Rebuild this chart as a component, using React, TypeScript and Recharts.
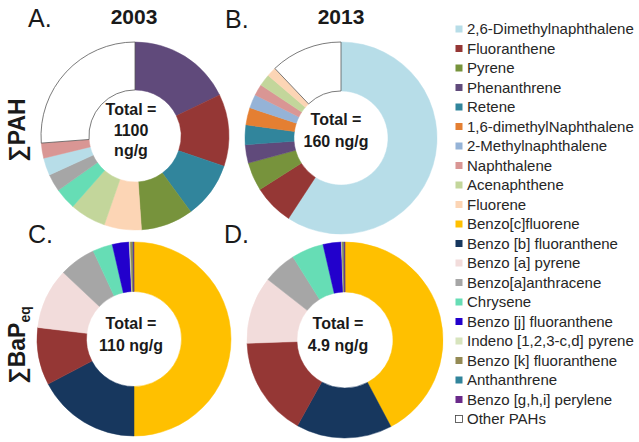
import { PieChart, Pie, Cell } from 'recharts';

// legend (also used for colours)
const legendNames = [
  '2,6-Dimethylnaphthalene',
  'Fluoranthene',
  'Pyrene',
  'Phenanthrene',
  'Retene',
  '1,6-dimethylNaphthalene',
  '2-Methylnaphthalene',
  'Naphthalene',
  'Acenaphthene',
  'Fluorene',
  'Benzo[c]fluorene',
  'Benzo [b] fluoranthene',
  'Benzo [a] pyrene',
  'Benzo[a]anthracene',
  'Chrysene',
  'Benzo [j] fluoranthene',
  'Indeno [1,2,3-c,d] pyrene',
  'Benzo [k] fluoranthene',
  'Anthanthrene',
  'Benzo [g,h,i] perylene',
  'Other PAHs',
];
const legendColors = [
  '#B7DDE8', '#953735', '#77933C', '#604A7B', '#31859C', '#E47F32', '#95B3D7',
  '#D99694', '#C3D69B', '#FCD5B5', '#FFC000', '#17375E', '#F2DCDB', '#A6A6A6',
  '#66DDB5', '#2200CC', '#D7E4BD', '#948A54', '#31849B', '#6A2A8A', '#FFFFFF',
];

// A. sum PAH 2003 (% of total)
const pah2003Names = [
  'Phenanthrene', 'Fluoranthene', 'Retene', 'Pyrene', 'Fluorene', 'Acenaphthene',
  'Chrysene', 'Benzo[a]anthracene', '2,6-Dimethylnaphthalene', 'Naphthalene', 'Other PAHs',
];
const pah2003Values = [17.8, 12.4, 9.7, 9.0, 6.4, 6.2, 3.7, 3.0, 3.0, 2.6, 26.2];

// B. sum PAH 2013
const pah2013Names = [
  '2,6-Dimethylnaphthalene', 'Fluoranthene', 'Pyrene', 'Phenanthrene', 'Retene',
  '1,6-dimethylNaphthalene', '2-Methylnaphthalene', 'Naphthalene', 'Acenaphthene',
  'Fluorene', 'Other PAHs',
];
const pah2013Values = [59.2, 6.8, 4.8, 3.1, 3.3, 2.9, 2.3, 1.9, 2.0, 1.6, 12.1];

// C./D. sum BaPeq
const bapNames = [
  'Benzo[c]fluorene', 'Benzo [b] fluoranthene', 'Fluoranthene', 'Benzo [a] pyrene',
  'Benzo[a]anthracene', 'Chrysene', 'Benzo [j] fluoranthene', 'Indeno [1,2,3-c,d] pyrene',
  'Benzo [k] fluoranthene', 'Anthanthrene', 'Benzo [g,h,i] perylene',
];
const bap2003Values = [50, 17.3, 9.6, 10.1, 6.1, 3.3, 2.8, 0.2, 0.4, 0.1, 0.1];
const bap2013Values = [42.2, 15.8, 16.4, 11.1, 5.5, 5.3, 3.0, 0.1, 0.3, 0.1, 0.1];

const colorOf = (name: string) => legendColors[legendNames.indexOf(name)];
const toRows = (names: string[], values: number[]) =>
  names.map((name, i) => ({ name, value: values[i] }));

const font = 'Arial, "Liberation Sans", sans-serif';

const Donut = ({ names, values, cx, cy, r }: { names: string[]; values: number[]; cx: number; cy: number; r: number }) => (
  <Pie
    data={toRows(names, values)}
    dataKey="value"
    nameKey="name"
    cx={cx}
    cy={cy}
    innerRadius={r * 0.49}
    outerRadius={r}
    startAngle={90}
    endAngle={-270}
    isAnimationActive={false}
  >
    {names.map((n) => (
      <Cell
        key={n}
        fill={colorOf(n)}
        stroke={n === 'Other PAHs' ? '#595959' : colorOf(n)}
        strokeWidth={n === 'Other PAHs' ? 0.8 : 0.5}
      />
    ))}
  </Pie>
);

const centerText = (x: number, lines: string[], baselines: number[]) =>
  lines.map((t, i) => (
    <text key={t} x={x} y={baselines[i]} textAnchor="middle" fontSize={16} fontWeight="bold" fill="#1a1a1a">
      {t}
    </text>
  ));

export default function App() {
  return (
    <div style={{ position: 'absolute', left: 0, top: 0, width: 639, height: 442, background: '#fff', fontFamily: font }}>
      <PieChart width={639} height={442}>
        {Donut({ names: pah2003Names, values: pah2003Values, cx: 130, cy: 131, r: 94 })}
        {Donut({ names: pah2013Names, values: pah2013Values, cx: 336, cy: 133, r: 96 })}
        {Donut({ names: bapNames, values: bap2003Values, cx: 129, cy: 334, r: 97 })}
        {Donut({ names: bapNames, values: bap2013Values, cx: 340, cy: 335, r: 98 })}
      </PieChart>
      <svg width={639} height={442} style={{ position: 'absolute', left: 0, top: 0, pointerEvents: 'none' }} fontFamily={font}>
        <text x={28} y={27} fontSize={25} fill="#1a1a1a">A.</text>
        <text x={225} y={28} fontSize={25} fill="#1a1a1a">B.</text>
        <text x={28} y={243} fontSize={25} fill="#1a1a1a">C.</text>
        <text x={224} y={243} fontSize={25} fill="#1a1a1a">D.</text>
        <text x={134} y={24} textAnchor="middle" fontSize={21} fontWeight="bold" fill="#1a1a1a">2003</text>
        <text x={341} y={24} textAnchor="middle" fontSize={21} fontWeight="bold" fill="#1a1a1a">2013</text>
        <text x={25} y={130} textAnchor="middle" fontSize={23} fontWeight="bold" fill="#1a1a1a" transform="rotate(-90 25 130)">∑PAH</text>
        <text x={25} y={345} textAnchor="middle" fontSize={23} fontWeight="bold" fill="#1a1a1a" transform="rotate(-90 25 345)">
          ∑BaP<tspan fontSize={14} dy={5}>eq</tspan>
        </text>
        {centerText(131, ['Total =', '1100', 'ng/g'], [115, 136, 156])}
        {centerText(336, ['Total =', '160 ng/g'], [125, 147])}
        {centerText(131, ['Total =', '110 ng/g'], [329, 351])}
        {centerText(338, ['Total =', '4.9 ng/g'], [329, 351])}
        {legendNames.map((n, i) => {
          const y = 29 + i * 19.5;
          return (
            <g key={n}>
              <rect x={455.5} y={y - 3.5} width={7} height={7} fill={legendColors[i]} stroke={n === 'Other PAHs' ? '#404040' : 'none'} strokeWidth={0.8} />
              <text x={467} y={y + 5} fontSize={15} fill="#262626">{n}</text>
            </g>
          );
        })}
      </svg>
    </div>
  );
}
